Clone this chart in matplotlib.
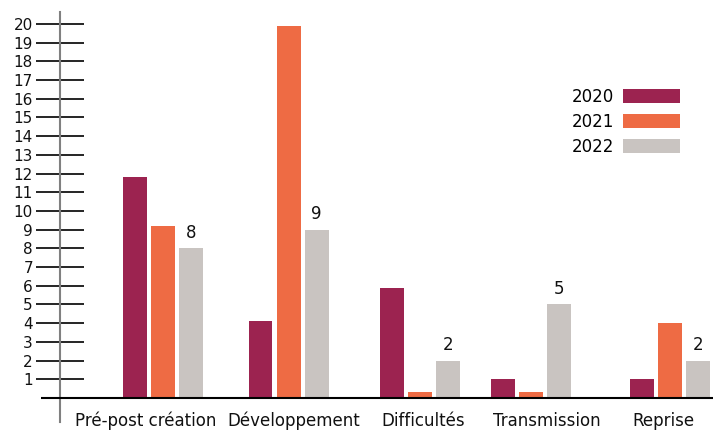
import matplotlib.pyplot as plt
import numpy as np

# data
categories = ["Pré-post création", "Développement", "Difficultés", "Transmission", "Reprise"]
years = ["2020", "2021", "2022"]
values_2020 = [11.8, 4.1, 5.9, 1, 1]
values_2021 = [9.2, 19.9, 0.3, 0.3, 4]
values_2022 = [8, 9, 2, 5, 2]
labels_2022 = ["8", "9", "2", "5", "2"]
y_ticks = list(range(1, 21))

colors = ["#9C2350", "#EE6B44", "#C9C4C1"]

# layout: group centres and label centres (the original is not evenly spaced)
group_pos = np.array([0, 0.99, 2.03, 2.9, 4])
label_pos = np.array([-0.134, 1.03, 2.05, 3.03, 3.945])

plt.rcParams['font.family'] = ['DejaVu Sans']

fig = plt.figure(figsize=(7.13, 4.30), dpi=100)
# axes spans from the baseline start to right edge
ax = fig.add_axes([41 / 713, 1 - 422 / 430, 1 - 41 / 713, 410 / 430])

step = 0.221
width = 0.189
series = [values_2020, values_2021, values_2022]
bars = []
for i, vals in enumerate(series):
    b = ax.bar(group_pos + (i - 1) * step, vals, width, color=colors[i], label=years[i], zorder=2)
    bars.append(b)

# value labels only on 2022 bars
for rect, lab in zip(bars[2], labels_2022):
    ax.text(rect.get_x() + rect.get_width() / 2, rect.get_height() + 0.35, lab,
            ha='center', va='bottom', fontsize=12, color='#111111')

# category labels under the groups
for xi, cat in zip(label_pos, categories):
    ax.text(xi, -1.23, cat, ha='center', va='center', fontsize=12, color='#111111')

ax.set_xlim(-0.963, 4.339)
ax.set_ylim(-1.283, 20.64)

# baseline
ax.axhline(0, color='black', lw=1.5, zorder=3)

# y axis: gray vertical line with long black ticks crossing it
for s in ['top', 'right', 'bottom']:
    ax.spines[s].set_visible(False)
ax.spines['left'].set_position(('data', -0.8126))
ax.spines['left'].set_color('#808080')
ax.spines['left'].set_linewidth(1.5)
ax.set_yticks(y_ticks)
ax.set_yticklabels([str(t) for t in y_ticks])
ax.tick_params(axis='y', direction='inout', length=35, width=1.2, color='black',
               pad=2, labelsize=11, labelcolor='#111111')
ax.set_xticks([])

# legend with swatches on the right
ax.legend(loc='upper right', bbox_to_anchor=(680 / 713, 1 - 88 / 430),
          bbox_transform=fig.transFigure, frameon=False, markerfirst=False,
          handlelength=3.4, handleheight=0.9, handletextpad=0.55,
          labelspacing=0.42, borderpad=0, borderaxespad=0,
          prop={'size': 12})

fig.savefig("out.png", dpi=100)
